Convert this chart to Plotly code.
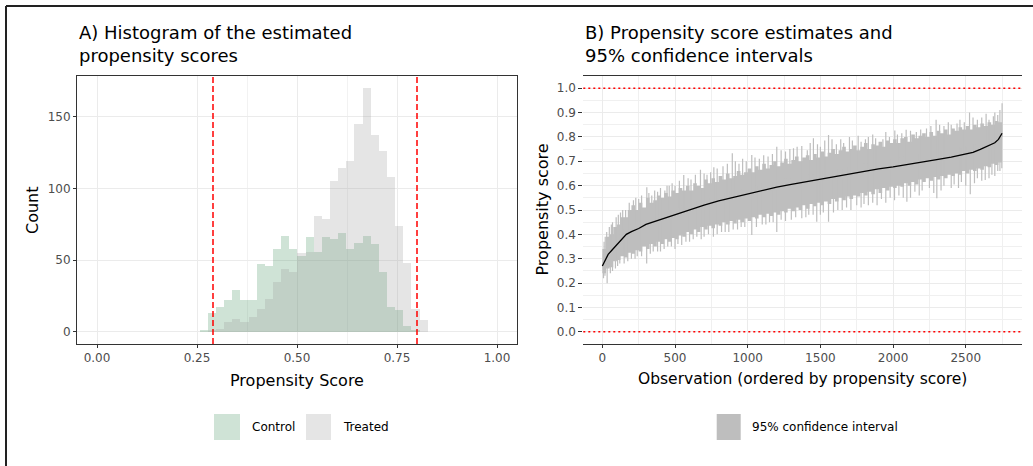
import plotly.graph_objects as go

W, H = 1033, 466

# ---- Panel A: histogram of estimated propensity scores (counts per bin) ----
bin_start = 0.2566
bin_width = 0.02036
control_counts = [1, 13, 17, 22, 29, 22, 22, 47, 46, 58, 67, 58, 53, 66,
                  56, 66, 65, 69, 58, 62, 67, 61, 42, 17, 15, 4, 1, 0]
treated_counts = [0, 1, 2, 7, 9, 7, 10, 16, 23, 35, 44, 42, 55, 56,
                  81, 79, 105, 114, 119, 145, 170, 137, 126, 108, 74, 48, 16, 8]
trim_bounds = [0.29, 0.80]
hist_xticks = [0.0, 0.25, 0.5, 0.75, 1.0]
hist_xticklabels = ["0.00", "0.25", "0.50", "0.75", "1.00"]
hist_yticks = [0, 50, 100, 150]

# ---- Panel B: sorted propensity score estimates with 95% CIs ----
est_obs = [0, 20, 40, 70, 100, 130, 165, 200, 250, 300, 350, 400, 450, 500,
           550, 600, 700, 800, 900, 1000, 1100, 1200, 1300, 1400, 1500, 1600,
           1700, 1800, 1900, 2000, 2100, 2200, 2300, 2400, 2500, 2550, 2600,
           2650, 2700, 2725, 2740, 2750]
est_ps = [0.270, 0.297, 0.318, 0.338, 0.357, 0.378, 0.400, 0.411, 0.424, 0.441,
          0.451, 0.462, 0.471, 0.480, 0.490, 0.501, 0.520, 0.537, 0.552, 0.566,
          0.581, 0.594, 0.605, 0.616, 0.627, 0.639, 0.649, 0.659, 0.669, 0.677,
          0.686, 0.696, 0.707, 0.717, 0.731, 0.737, 0.749, 0.762, 0.776, 0.790,
          0.805, 0.815]

# dense part of the interval band, every 25 observations
ci_obs = list(range(0, 2751, 25))
ci_hi = [0.34, 0.39, 0.40, 0.43, 0.44, 0.47, 0.47, 0.50, 0.52, 0.50,
         0.53, 0.51, 0.55, 0.53, 0.54, 0.56, 0.55, 0.57, 0.555, 0.58,
         0.57, 0.59, 0.58, 0.60, 0.58, 0.61, 0.60, 0.59, 0.625, 0.61,
         0.63, 0.615, 0.64, 0.625, 0.65, 0.63, 0.64, 0.66, 0.645, 0.655,
         0.67, 0.655, 0.68, 0.665, 0.69, 0.67, 0.685, 0.70, 0.68, 0.695,
         0.71, 0.69, 0.705, 0.72, 0.70, 0.715, 0.725, 0.705, 0.73, 0.715,
         0.74, 0.72, 0.735, 0.75, 0.73, 0.745, 0.76, 0.74, 0.75, 0.765,
         0.745, 0.76, 0.775, 0.75, 0.77, 0.765, 0.78, 0.76, 0.785, 0.775,
         0.79, 0.775, 0.795, 0.80, 0.78, 0.81, 0.795, 0.805, 0.815, 0.80,
         0.82, 0.805, 0.825, 0.815, 0.83, 0.81, 0.835, 0.825, 0.84, 0.83,
         0.845, 0.83, 0.85, 0.84, 0.855, 0.845, 0.86, 0.85, 0.865, 0.86,
         0.87]
ci_lo = [0.24, 0.26, 0.265, 0.29, 0.295, 0.31, 0.305, 0.325, 0.32, 0.335,
         0.33, 0.35, 0.34, 0.36, 0.35, 0.37, 0.36, 0.38, 0.37, 0.385,
         0.38, 0.395, 0.39, 0.41, 0.40, 0.42, 0.41, 0.43, 0.42, 0.435,
         0.425, 0.44, 0.435, 0.45, 0.44, 0.455, 0.445, 0.46, 0.45, 0.465,
         0.455, 0.47, 0.465, 0.48, 0.47, 0.485, 0.475, 0.49, 0.48, 0.495,
         0.49, 0.505, 0.495, 0.51, 0.50, 0.52, 0.505, 0.525, 0.515, 0.53,
         0.52, 0.535, 0.525, 0.545, 0.535, 0.55, 0.54, 0.555, 0.545, 0.56,
         0.555, 0.57, 0.56, 0.575, 0.565, 0.585, 0.57, 0.59, 0.58, 0.595,
         0.59, 0.60, 0.595, 0.61, 0.60, 0.615, 0.605, 0.625, 0.615, 0.63,
         0.62, 0.635, 0.625, 0.64, 0.63, 0.645, 0.64, 0.65, 0.645, 0.66,
         0.65, 0.665, 0.66, 0.67, 0.665, 0.68, 0.675, 0.69, 0.685, 0.695,
         0.70]

# individual intervals that stick out of the dense band
spike_obs = [12, 30, 48, 70, 95, 125, 160, 214, 250, 306, 340, 380, 430, 460,
             500, 560, 610, 675, 720, 767, 830, 894, 940, 990, 1028, 1080,
             1140, 1200, 1260, 1315, 1372, 1410, 1452, 1500, 1556, 1610, 1660,
             1720, 1780, 1830, 1880, 1930, 1975, 2012, 2060, 2090, 2160, 2230,
             2296, 2350, 2400, 2440, 2490, 2526, 2580, 2610, 2640, 2690, 2720,
             2750,
             8, 33, 55, 90, 120, 150, 200, 240, 305, 350, 400, 450, 500, 546,
             600, 650, 700, 764, 820, 870, 930, 980, 1028, 1100, 1150, 1200,
             1260, 1330, 1372, 1420, 1475, 1520, 1556, 1620, 1680, 1750, 1800,
             1860, 1920, 1980, 2040, 2095, 2150, 2200, 2250, 2301, 2350, 2420,
             2470, 2531, 2580, 2634, 2680, 2720, 2748,
             20, 62, 110, 140, 185, 230, 270, 320, 360, 400, 445, 480, 530,
             590, 640, 700, 745, 790, 860, 915, 965, 1050, 1110, 1170, 1230,
             1290, 1340, 1430, 1480, 1530, 1580, 1640, 1700, 1760, 1810, 1860,
             1950, 2030, 2120, 2190, 2260, 2320, 2380, 2460, 2550, 2660, 2700,
             2735,
             18, 70, 105, 175, 225, 270, 330, 380, 425, 475, 520, 575, 625,
             680, 730, 790, 845, 900, 955, 1060, 1125, 1175, 1230, 1300, 1400,
             1450, 1500, 1590, 1650, 1710, 1780, 1830, 1890, 1950, 2010, 2070,
             2120, 2180, 2280, 2330, 2400, 2450, 2500, 2560, 2610, 2660, 2700,
             2735]
spike_lo = [0.27, 0.30, 0.32, 0.33, 0.35, 0.37, 0.39, 0.41, 0.42, 0.44, 0.45,
            0.46, 0.47, 0.47, 0.48, 0.49, 0.50, 0.51, 0.52, 0.53, 0.54, 0.55,
            0.56, 0.56, 0.57, 0.58, 0.58, 0.59, 0.60, 0.60, 0.61, 0.61, 0.62,
            0.63, 0.63, 0.64, 0.645, 0.65, 0.655, 0.66, 0.665, 0.67, 0.675,
            0.68, 0.68, 0.685, 0.69, 0.70, 0.705, 0.71, 0.715, 0.72, 0.73,
            0.73, 0.74, 0.745, 0.75, 0.765, 0.77, 0.80,
            0.22, 0.199, 0.24, 0.26, 0.28, 0.28, 0.30, 0.31, 0.28, 0.33, 0.33,
            0.35, 0.34, 0.356, 0.37, 0.39, 0.39, 0.39, 0.41, 0.41, 0.42, 0.43,
            0.397, 0.44, 0.45, 0.41, 0.455, 0.47, 0.466, 0.48, 0.452, 0.49,
            0.452, 0.50, 0.51, 0.52, 0.525, 0.53, 0.545, 0.55, 0.56, 0.534,
            0.575, 0.58, 0.59, 0.548, 0.60, 0.605, 0.615, 0.565, 0.63, 0.623,
            0.645, 0.66, 0.671,
            0.28, 0.32, 0.35, 0.37, 0.39, 0.41, 0.42, 0.43, 0.44, 0.45, 0.46,
            0.47, 0.48, 0.49, 0.50, 0.51, 0.52, 0.53, 0.54, 0.55, 0.555, 0.565,
            0.575, 0.58, 0.59, 0.60, 0.605, 0.61, 0.62, 0.625, 0.63, 0.64,
            0.645, 0.65, 0.655, 0.66, 0.67, 0.675, 0.685, 0.69, 0.70, 0.705,
            0.71, 0.72, 0.735, 0.755, 0.765, 0.78,
            0.23, 0.25, 0.27, 0.29, 0.30, 0.31, 0.32, 0.33, 0.34, 0.35, 0.36,
            0.37, 0.38, 0.38, 0.40, 0.40, 0.41, 0.42, 0.43, 0.43, 0.44, 0.45,
            0.46, 0.46, 0.47, 0.48, 0.48, 0.49, 0.50, 0.50, 0.51, 0.52, 0.52,
            0.53, 0.54, 0.55, 0.55, 0.56, 0.57, 0.58, 0.59, 0.59, 0.60, 0.61,
            0.62, 0.63, 0.64, 0.66]
spike_hi = [0.37, 0.41, 0.43, 0.45, 0.47, 0.49, 0.50, 0.54, 0.545, 0.593, 0.56,
            0.575, 0.58, 0.60, 0.60, 0.644, 0.625, 0.665, 0.645, 0.675, 0.68,
            0.733, 0.69, 0.70, 0.726, 0.71, 0.72, 0.76, 0.74, 0.753, 0.763,
            0.745, 0.795, 0.76, 0.808, 0.77, 0.775, 0.785, 0.78, 0.80, 0.795,
            0.79, 0.80, 0.826, 0.815, 0.829, 0.82, 0.835, 0.87, 0.845, 0.85,
            0.855, 0.86, 0.90, 0.87, 0.88, 0.895, 0.885, 0.89, 0.938,
            0.32, 0.33, 0.36, 0.38, 0.40, 0.42, 0.44, 0.45, 0.47, 0.48, 0.49,
            0.50, 0.51, 0.52, 0.53, 0.54, 0.55, 0.56, 0.57, 0.58, 0.585, 0.59,
            0.60, 0.61, 0.615, 0.62, 0.63, 0.635, 0.64, 0.645, 0.65, 0.66,
            0.665, 0.67, 0.68, 0.685, 0.69, 0.70, 0.705, 0.71, 0.715, 0.72,
            0.725, 0.73, 0.735, 0.74, 0.745, 0.75, 0.755, 0.76, 0.77, 0.78,
            0.79, 0.80, 0.81,
            0.39, 0.44, 0.48, 0.50, 0.53, 0.55, 0.56, 0.57, 0.58, 0.59, 0.60,
            0.61, 0.62, 0.63, 0.645, 0.65, 0.655, 0.67, 0.69, 0.70, 0.71, 0.715,
            0.725, 0.73, 0.745, 0.75, 0.76, 0.775, 0.77, 0.785, 0.79, 0.79,
            0.80, 0.805, 0.79, 0.81, 0.82, 0.81, 0.825, 0.83, 0.845, 0.85,
            0.86, 0.87, 0.88, 0.87, 0.90, 0.91,
            0.32, 0.37, 0.39, 0.42, 0.44, 0.46, 0.47, 0.48, 0.49, 0.50, 0.51,
            0.52, 0.53, 0.54, 0.55, 0.56, 0.57, 0.58, 0.585, 0.60, 0.61, 0.615,
            0.62, 0.63, 0.64, 0.645, 0.65, 0.66, 0.67, 0.675, 0.685, 0.69,
            0.70, 0.705, 0.71, 0.72, 0.72, 0.73, 0.74, 0.745, 0.75, 0.76,
            0.76, 0.77, 0.78, 0.79, 0.80, 0.80]
ps_bounds = [0.0, 1.0]
obs_ticks = [0, 500, 1000, 1500, 2000, 2500]
ps_ticks = [round(0.1 * i, 1) for i in range(11)]

FONT = "DejaVu Sans"
TICK_FONT = dict(family=FONT, size=12, color="#4d4d4d")
CONTROL_FILL = "rgba(63,143,91,0.25)"
TREATED_FILL = "rgba(153,153,153,0.25)"
CI_GREY = "#bebebe"


def px(x):
    return x / W


def py(y):
    return 1 - y / H


fig = go.Figure()

# Panel A bars (overlaid, semi-transparent)
fig.add_trace(go.Bar(x=[bin_start + bin_width * (i + 0.5) for i in range(len(control_counts))],
                     y=control_counts, width=bin_width, marker=dict(color=CONTROL_FILL, line_width=0),
                     name="Control", showlegend=False, xaxis="x", yaxis="y"))
fig.add_trace(go.Bar(x=[bin_start + bin_width * (i + 0.5) for i in range(len(treated_counts))],
                     y=treated_counts, width=bin_width, marker=dict(color=TREATED_FILL, line_width=0),
                     name="Treated", showlegend=False, xaxis="x", yaxis="y"))

# Panel B: CI band, wide intervals, point estimates
fig.add_trace(go.Scatter(x=ci_obs, y=ci_lo, mode="lines", line=dict(width=0, color=CI_GREY, shape="hv"),
                         showlegend=False, hoverinfo="skip", xaxis="x2", yaxis="y2"))
fig.add_trace(go.Scatter(x=ci_obs, y=ci_hi, mode="lines", line=dict(width=0, color=CI_GREY, shape="hv"),
                         fill="tonexty", fillcolor=CI_GREY, showlegend=False, hoverinfo="skip",
                         xaxis="x2", yaxis="y2"))
sx, sy = [], []
for o, lo, hi in zip(spike_obs, spike_lo, spike_hi):
    sx += [o, o, None]
    sy += [lo, hi, None]
fig.add_trace(go.Scatter(x=sx, y=sy, mode="lines", line=dict(width=1.2, color=CI_GREY),
                         showlegend=False, hoverinfo="skip", xaxis="x2", yaxis="y2"))
fig.add_trace(go.Scatter(x=est_obs, y=est_ps, mode="lines", line=dict(width=1.3, color="black"),
                         showlegend=False, xaxis="x2", yaxis="y2"))

common_axis = dict(ticks="outside", tickcolor="#333333", tickfont=TICK_FONT,
                   zeroline=False, gridcolor="#ebebeb", gridwidth=1)

fig.update_layout(
    width=W, height=H, margin=dict(l=0, r=0, t=0, b=0),
    paper_bgcolor="white", plot_bgcolor="white", barmode="overlay", bargap=0,
    font=dict(family=FONT, color="black"),
    xaxis=dict(domain=[px(77), px(517)], range=[-0.05, 1.05], anchor="y",
               tickvals=hist_xticks, ticktext=hist_xticklabels, ticklen=3,
               showline=True, mirror=True, linecolor="#333333", linewidth=1,
               minor=dict(tickvals=[0.375, 0.625], showgrid=True, gridcolor="#f2f2f2", ticks=""),
               **common_axis),
    yaxis=dict(domain=[py(344), py(76)], range=[-8.5, 178.5], anchor="x",
               tickvals=hist_yticks, ticklen=3,
               showline=True, mirror=True, linecolor="#333333", linewidth=1,
               **common_axis),
    xaxis2=dict(domain=[px(583.3), px(1022.3)], range=[-131, 2889], anchor="y2",
                tickvals=obs_ticks, ticklen=3,
                showline=True, mirror=True, linecolor="#333333", linewidth=1,
                minor=dict(tickvals=[250, 750, 1250, 1750, 2250, 2750], showgrid=True,
                           gridcolor="#f0f0f0", ticks=""),
                **common_axis),
    yaxis2=dict(domain=[py(344), py(76)], range=[-0.05, 1.05], anchor="x2",
                tickvals=ps_ticks, ticktext=[f"{v:.1f}" for v in ps_ticks], ticklen=4,
                showline=False,
                minor=dict(tickvals=[round(0.05 + 0.1 * i, 2) for i in range(10)], showgrid=True,
                           gridcolor="#f0f0f0", ticks=""),
                **common_axis),
)

shapes = []
# trimming thresholds on the histogram
for b in trim_bounds:
    shapes.append(dict(type="line", xref="x", yref="y domain", x0=b, x1=b, y0=0, y1=1,
                       line=dict(color="red", width=1.5, dash="6px,3px"), layer="above"))
# probability bounds on panel B
for b in ps_bounds:
    shapes.append(dict(type="line", xref="x2 domain", yref="y2", x0=0, x1=1, y0=b, y1=b,
                       line=dict(color="red", width=1.5, dash="2px,3px"), layer="above"))
# outer frame (top and left edges)
shapes.append(dict(type="line", xref="paper", yref="paper", x0=px(6), x1=1, y0=py(6), y1=py(6),
                   line=dict(color="#222222", width=2)))
shapes.append(dict(type="line", xref="paper", yref="paper", x0=px(6), x1=px(6), y0=0, y1=py(6),
                   line=dict(color="#222222", width=2)))
# legend keys
shapes.append(dict(type="rect", xref="paper", yref="paper", x0=px(214), x1=px(240),
                   y0=py(440), y1=py(414), fillcolor=CONTROL_FILL, line_width=0))
shapes.append(dict(type="rect", xref="paper", yref="paper", x0=px(306), x1=px(331),
                   y0=py(440), y1=py(414), fillcolor=TREATED_FILL, line_width=0))
shapes.append(dict(type="rect", xref="paper", yref="paper", x0=px(716.7), x1=px(740.7),
                   y0=py(440), y1=py(414), fillcolor=CI_GREY, line_width=0))
fig.update_layout(shapes=shapes)

ann = []
TITLE_FONT = dict(family=FONT, size=18, color="black")
AX_FONT = dict(family=FONT, size=16, color="black")
AX_FONT_B = dict(family=FONT, size=15.5, color="black")
LEG_FONT = dict(family=FONT, size=12, color="black")
ann.append(dict(text="A) Histogram of the estimated<br>propensity scores", x=px(77), y=py(68),
                xanchor="left", yanchor="bottom", align="left", font=TITLE_FONT))
ann.append(dict(text="B) Propensity score estimates and<br>95% confidence intervals", x=px(582.5),
                y=py(68), xanchor="left", yanchor="bottom", align="left", font=TITLE_FONT))
ann.append(dict(text="Count", x=px(32), y=py(210), textangle=-90, font=AX_FONT,
                xanchor="center", yanchor="middle"))
ann.append(dict(text="Propensity Score", x=px(297), y=py(380), font=AX_FONT,
                xanchor="center", yanchor="middle"))
ann.append(dict(text="Propensity score", x=px(541.5), y=py(210), textangle=-90, font=AX_FONT,
                xanchor="center", yanchor="middle"))
ann.append(dict(text="Observation (ordered by propensity score)", x=px(802.8), y=py(379),
                font=AX_FONT_B, xanchor="center", yanchor="middle"))
ann.append(dict(text="Control", x=px(250), y=py(427), xanchor="left", yanchor="middle", font=LEG_FONT))
ann.append(dict(text="Treated", x=px(341), y=py(427), xanchor="left", yanchor="middle", font=LEG_FONT))
ann.append(dict(text="95% confidence interval", x=px(750), y=py(427), xanchor="left",
                yanchor="middle", font=LEG_FONT))
for a in ann:
    a.update(xref="paper", yref="paper", showarrow=False)
fig.update_layout(annotations=ann)

fig.write_html("out.html")
